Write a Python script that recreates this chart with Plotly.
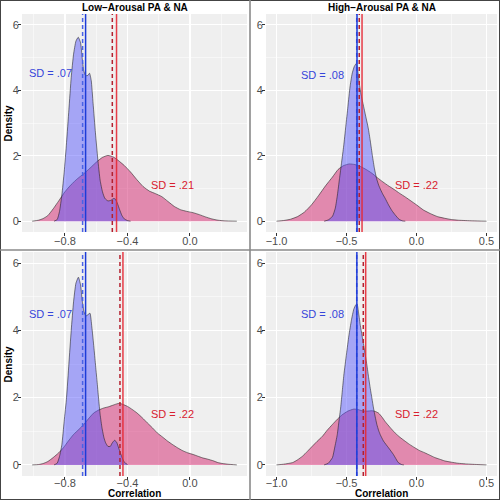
import plotly.graph_objects as go

# ---------------- data ----------------
panel_titles = ["Low\u2212Arousal PA & NA", "High\u2212Arousal PA & NA", "", ""]

tl_blue_x = [-0.87,-0.85,-0.835,-0.82,-0.805,-0.79,-0.775,-0.76,-0.745,-0.73,-0.715,-0.70,-0.69,-0.68,-0.668,-0.655,-0.643,-0.632,-0.62,-0.605,-0.59,-0.575,-0.56,-0.545,-0.525,-0.505,-0.49,-0.478,-0.465,-0.45,-0.435,-0.42,-0.40,-0.38]
tl_blue_y = [0,0.05,0.3,0.8,1.5,2.4,3.4,4.4,5.1,5.5,5.62,5.45,5.0,4.6,4.45,4.45,4.52,4.3,3.6,2.7,1.9,1.25,0.9,0.7,0.62,0.64,0.69,0.68,0.55,0.35,0.17,0.07,0.02,0]
tl_red_x = [-1.01,-0.97,-0.94,-0.91,-0.875,-0.84,-0.80,-0.76,-0.72,-0.68,-0.64,-0.60,-0.56,-0.525,-0.49,-0.46,-0.42,-0.38,-0.34,-0.30,-0.26,-0.22,-0.18,-0.14,-0.10,-0.06,-0.02,0.02,0.06,0.10,0.14,0.18,0.22,0.30]
tl_red_y = [0,0.03,0.08,0.17,0.38,0.62,0.9,1.12,1.3,1.45,1.62,1.8,1.95,2.01,1.96,1.86,1.7,1.5,1.27,1.06,0.92,0.84,0.75,0.6,0.45,0.35,0.3,0.26,0.2,0.13,0.07,0.03,0.01,0]

tr_blue_x = [-0.66,-0.63,-0.60,-0.58,-0.565,-0.55,-0.535,-0.52,-0.505,-0.49,-0.475,-0.46,-0.445,-0.43,-0.418,-0.405,-0.39,-0.375,-0.36,-0.345,-0.33,-0.315,-0.30,-0.285,-0.27,-0.255,-0.24,-0.224,-0.2,-0.175,-0.15,-0.125,-0.1,-0.08]
tr_blue_y = [0,0.04,0.15,0.4,0.8,1.3,1.8,2.3,2.9,3.5,4.1,4.5,4.72,4.82,4.55,4.1,3.75,3.45,3.15,2.85,2.45,2.0,1.6,1.3,1.1,0.95,0.82,0.7,0.5,0.32,0.18,0.06,0.01,0]
tr_red_x = [-1.0,-0.95,-0.9,-0.85,-0.8,-0.75,-0.7,-0.65,-0.6,-0.56,-0.52,-0.48,-0.44,-0.40,-0.36,-0.32,-0.28,-0.24,-0.20,-0.16,-0.12,-0.08,-0.04,0.0,0.05,0.1,0.15,0.2,0.25,0.3,0.4,0.5]
tr_red_y = [0,0.02,0.06,0.14,0.28,0.5,0.78,1.08,1.35,1.58,1.7,1.75,1.73,1.67,1.58,1.47,1.33,1.2,1.08,0.97,0.85,0.74,0.62,0.5,0.34,0.23,0.14,0.09,0.05,0.03,0.01,0]

bl_blue_x = [-0.87,-0.85,-0.835,-0.82,-0.805,-0.79,-0.775,-0.76,-0.745,-0.73,-0.714,-0.70,-0.69,-0.678,-0.665,-0.652,-0.64,-0.628,-0.615,-0.605,-0.595,-0.585,-0.575,-0.563,-0.55,-0.54,-0.525,-0.51,-0.498,-0.483,-0.47,-0.456,-0.445,-0.434,-0.42,-0.40]
bl_blue_y = [0,0.05,0.25,0.6,1.3,2.0,3.0,4.0,4.85,5.4,5.58,5.35,4.9,4.55,4.43,4.47,4.51,4.1,3.5,3.0,2.5,1.98,1.5,1.1,0.8,0.66,0.55,0.55,0.65,0.73,0.68,0.5,0.35,0.22,0.08,0.01]
bl_red_x = [-1.01,-0.97,-0.94,-0.91,-0.875,-0.84,-0.81,-0.78,-0.746,-0.71,-0.68,-0.65,-0.617,-0.585,-0.553,-0.52,-0.49,-0.465,-0.449,-0.43,-0.40,-0.37,-0.338,-0.305,-0.273,-0.24,-0.209,-0.176,-0.144,-0.11,-0.08,-0.05,-0.015,0.02,0.05,0.08,0.114,0.15,0.178,0.21,0.243,0.30]
bl_red_y = [0,0.01,0.04,0.1,0.22,0.36,0.51,0.7,0.9,1.06,1.2,1.37,1.54,1.63,1.69,1.73,1.78,1.82,1.83,1.8,1.74,1.65,1.54,1.4,1.25,1.1,0.95,0.83,0.71,0.6,0.51,0.43,0.36,0.31,0.26,0.21,0.17,0.12,0.07,0.04,0.02,0]

br_blue_x = [-0.66,-0.63,-0.60,-0.585,-0.566,-0.554,-0.542,-0.53,-0.519,-0.5,-0.483,-0.465,-0.448,-0.435,-0.425,-0.413,-0.401,-0.389,-0.377,-0.365,-0.354,-0.342,-0.33,-0.318,-0.307,-0.295,-0.283,-0.271,-0.259,-0.236,-0.2,-0.165,-0.13,-0.106,-0.09]
br_blue_y = [0,0.05,0.22,0.5,0.9,1.3,1.69,2.2,2.67,3.3,3.84,4.3,4.63,4.75,4.79,4.5,4.14,3.85,3.55,3.25,2.96,2.6,2.27,1.97,1.69,1.43,1.2,1.03,0.9,0.71,0.51,0.31,0.07,0.01,0]
br_red_x = [-1.0,-0.95,-0.884,-0.85,-0.814,-0.78,-0.743,-0.71,-0.672,-0.64,-0.601,-0.565,-0.531,-0.49,-0.448,-0.42,-0.389,-0.355,-0.318,-0.295,-0.271,-0.248,-0.224,-0.19,-0.153,-0.118,-0.083,-0.05,-0.012,0.02,0.059,0.095,0.13,0.165,0.2,0.25,0.295,0.35,0.39,0.44,0.5]
br_red_y = [0,0.02,0.07,0.15,0.26,0.4,0.56,0.7,0.85,1.02,1.2,1.36,1.49,1.6,1.66,1.65,1.61,1.6,1.61,1.59,1.54,1.43,1.29,1.12,0.95,0.82,0.71,0.61,0.51,0.43,0.36,0.29,0.22,0.17,0.12,0.08,0.05,0.03,0.02,0.01,0]

blue_dashed = [-0.687, -0.427, -0.687, -0.427]
blue_solid = [-0.668, -0.425, -0.668, -0.426]
red_dashed = [-0.497, -0.409, -0.448, -0.380]
red_solid = [-0.470, -0.389, -0.429, -0.363]

sd_blue_text = ["SD = .07", "SD = .08", "SD = .07", "SD = .08"]
sd_blue_x = [-0.89, -0.67, -0.89, -0.67]
sd_blue_y = [4.53, 4.47, 4.5, 4.5]
sd_red_text = ["SD = .21", "SD = .22", "SD = .22", "SD = .22"]
sd_red_x = [-0.109, 0.0, -0.109, 0.0]
sd_red_y = [1.10, 1.10, 1.51, 1.50]

# ---------------- layout geometry ----------------
W = H = 500
FONT = "Liberation Sans, Arial, Helvetica, sans-serif"
BG = "#EFEFEF"

# pixel boxes (x0, x1, ytop, ybottom)
boxes = [(22, 247, 14, 232), (266, 497, 14, 232), (22, 247, 252, 476), (266, 497, 252, 476)]
xranges = [[-1.075, 0.365], [-1.075, 0.575], [-1.075, 0.365], [-1.075, 0.575]]
xdticks = [0.4, 0.5, 0.4, 0.5]
xstandoff = [-4, -4, -6, -6]

curves = [
    (tl_red_x, tl_red_y, tl_blue_x, tl_blue_y),
    (tr_red_x, tr_red_y, tr_blue_x, tr_blue_y),
    (bl_red_x, bl_red_y, bl_blue_x, bl_blue_y),
    (br_red_x, br_red_y, br_blue_x, br_blue_y),
]

RED_FILL = "rgba(212,36,110,0.5)"
BLUE_FILL = "rgba(82,82,252,0.47)"
OUTLINE = "rgba(25,25,25,0.9)"

fig = go.Figure()
layout = dict(
    width=W, height=H, margin=dict(l=0, r=0, t=0, b=0),
    paper_bgcolor="white", plot_bgcolor=BG, showlegend=False,
    font=dict(family=FONT, size=11, color="#4D4D4D"),
)
annotations = []
shapes = []

for i in range(4):
    sfx = "" if i == 0 else str(i + 1)
    xa, ya = "x" + sfx, "y" + sfx
    rx, ry, bx, by = curves[i]
    fig.add_trace(go.Scatter(x=rx, y=ry, xaxis=xa, yaxis=ya, mode="lines", fill="tozeroy",
                             fillcolor=RED_FILL, line=dict(color=OUTLINE, width=0.6, shape="spline", smoothing=0.5),
                             hoverinfo="skip"))
    fig.add_trace(go.Scatter(x=bx, y=by, xaxis=xa, yaxis=ya, mode="lines", fill="tozeroy",
                             fillcolor=BLUE_FILL, line=dict(color=OUTLINE, width=0.6, shape="spline", smoothing=0.5),
                             hoverinfo="skip"))
    x0, x1, yt, yb = boxes[i]
    layout["xaxis" + sfx] = dict(
        domain=[x0 / W, x1 / W], range=xranges[i], anchor=ya,
        tick0=0, dtick=xdticks[i], tickformat=".1f",
        showgrid=True, gridcolor="white", gridwidth=1.1,
        minor=dict(showgrid=True, gridcolor="white", gridwidth=0.5, dtick=xdticks[i] / 2, tick0=0),
        zeroline=False, showline=False, ticks="outside", ticklen=3, tickcolor="#333333", tickwidth=1,
        ticklabelstandoff=xstandoff[i],
        tickfont=dict(family=FONT, size=11, color="#4D4D4D"), fixedrange=True,
    )
    layout["yaxis" + sfx] = dict(
        domain=[1 - yb / H, 1 - yt / H], range=[-0.33, 6.33], anchor=xa,
        tick0=0, dtick=2, showgrid=True, gridcolor="white", gridwidth=1.1,
        minor=dict(showgrid=True, gridcolor="white", gridwidth=0.5, dtick=1, tick0=0),
        zeroline=False, showline=False, ticks="outside", ticklen=3, tickcolor="#333333", tickwidth=1,
        ticklabelstandoff=-3,
        tickfont=dict(family=FONT, size=11, color="#4D4D4D"), fixedrange=True,
    )
    # vertical reference lines
    for val, col, dash in [(blue_dashed[i], "#4A63E6", "4px,3px"), (blue_solid[i], "#1D3BD8", "solid"),
                           (red_dashed[i], "#B3202E", "4px,3px"), (red_solid[i], "rgba(230,40,52,0.9)", "solid")]:
        shapes.append(dict(type="line", xref=xa, yref=ya + " domain", x0=val, x1=val, y0=0, y1=1,
                           line=dict(color=col, width=1.5, dash=dash), layer="above"))
    annotations.append(dict(x=sd_blue_x[i], y=sd_blue_y[i], xref=xa, yref=ya, text=sd_blue_text[i],
                            showarrow=False, xanchor="center", yanchor="middle",
                            font=dict(family=FONT, size=11, color="#3545DA")))
    annotations.append(dict(x=sd_red_x[i], y=sd_red_y[i], xref=xa, yref=ya, text=sd_red_text[i],
                            showarrow=False, xanchor="center", yanchor="middle",
                            font=dict(family=FONT, size=11, color="#D8202E")))
    if panel_titles[i]:
        annotations.append(dict(x=(x0 + x1) / 2 / W, y=1 - 7.5 / H, xref="paper", yref="paper",
                                text="<b>" + panel_titles[i] + "</b>", showarrow=False,
                                font=dict(family=FONT, size=10, color="black"),
                                xanchor="center", yanchor="middle"))

# axis titles
for yc in [(14 + 232) / 2, (252 + 476) / 2]:
    annotations.append(dict(x=7.5 / W, y=1 - yc / H, xref="paper", yref="paper", text="<b>Density</b>",
                            textangle=-90, showarrow=False, font=dict(family=FONT, size=10, color="black"),
                            xanchor="center", yanchor="middle"))
for xc in [(22 + 247) / 2, (266 + 497) / 2]:
    annotations.append(dict(x=xc / W, y=1 - 493.5 / H, xref="paper", yref="paper", text="<b>Correlation</b>",
                            showarrow=False, font=dict(family=FONT, size=10, color="black"),
                            xanchor="center", yanchor="middle", borderpad=0))

# figure frame and dividers
shapes.append(dict(type="rect", xref="paper", yref="paper", x0=0, x1=1, y0=0, y1=1,
                   line=dict(color="#444444", width=2), layer="above"))
shapes.append(dict(type="line", xref="paper", yref="paper", x0=0.5, x1=0.5, y0=0, y1=1,
                   line=dict(color="#8A8A8A", width=1.6), layer="above"))
shapes.append(dict(type="line", xref="paper", yref="paper", x0=0, x1=1, y0=0.5, y1=0.5,
                   line=dict(color="#8A8A8A", width=1.6), layer="above"))

layout["annotations"] = annotations
layout["shapes"] = shapes
fig.update_layout(**layout)
fig.write_html("out.html", config={"displayModeBar": False, "staticPlot": True},
               post_script="document.body.style.margin='0';document.body.style.padding='0';document.body.style.overflow='hidden';")
